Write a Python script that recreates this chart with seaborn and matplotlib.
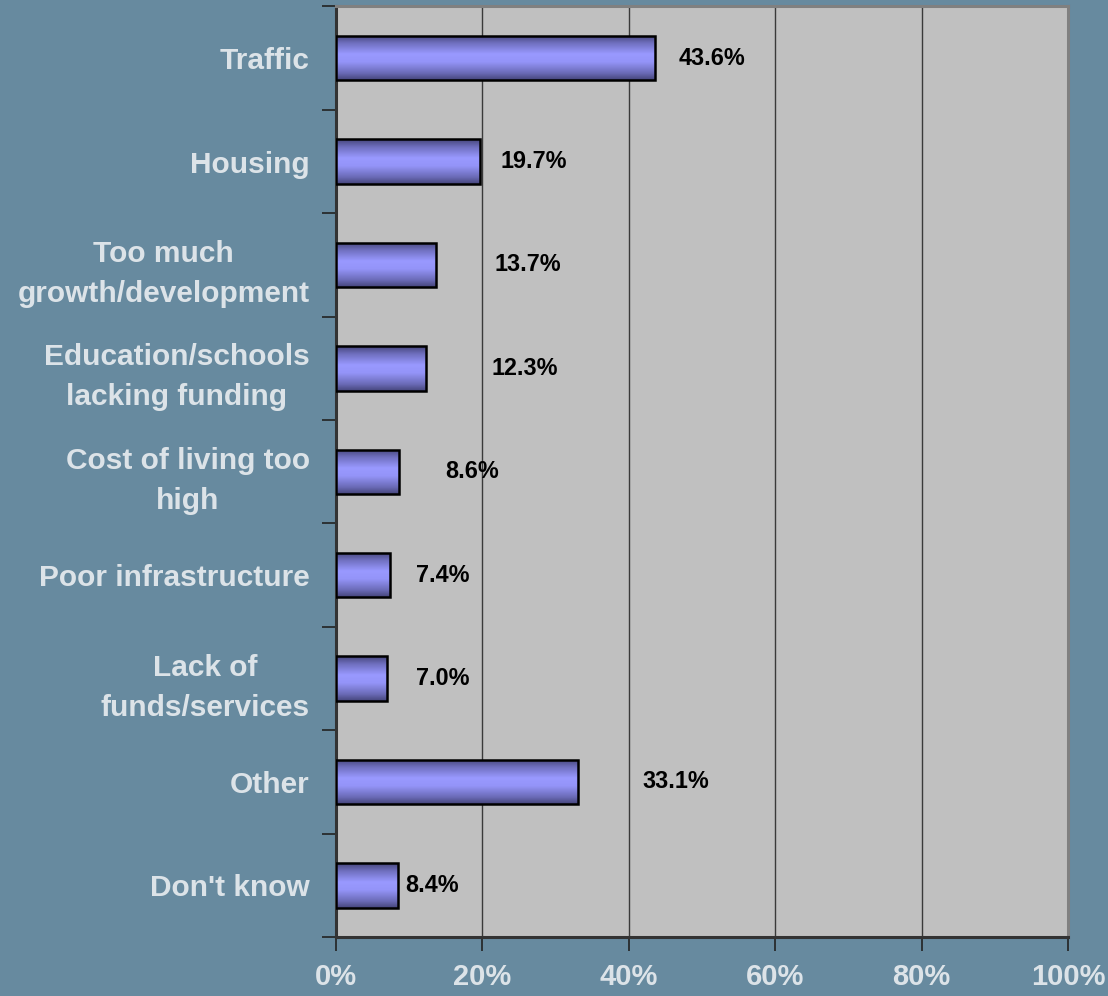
import numpy as np
import pandas as pd
import matplotlib
matplotlib.use("Agg")
import matplotlib.pyplot as plt
from matplotlib.colors import LinearSegmentedColormap
from matplotlib.ticker import FixedLocator, PercentFormatter
import seaborn as sns

# Survey results: most important issue facing the community
categories = [
    "Traffic",
    "Housing",
    "Too much\ngrowth/development",
    "Education/schools\nlacking funding",
    "Cost of living too\nhigh",
    "Poor infrastructure",
    "Lack of\nfunds/services",
    "Other",
    "Don't know",
]
shares = [43.6, 19.7, 13.7, 12.3, 8.6, 7.4, 7.0, 33.1, 8.4]
value_labels = ["43.6%", "19.7%", "13.7%", "12.3%", "8.6%", "7.4%", "7.0%", "33.1%", "8.4%"]
x_ticks = [0, 20, 40, 60, 80, 100]

# horizontal gap (pixels) between each bar end and its value label
label_gap_px = [23, 20, 58, 65, 46, 26, 29, 64, 8]

BG = "#678A9F"
PLOT_BG = "#C0C0C0"
LIGHT_TEXT = "#DCE3E8"

sns.set_theme(style="white")
plt.rcParams["font.family"] = ["Liberation Sans", "DejaVu Sans"]
plt.rcParams["font.weight"] = "bold"

df = pd.DataFrame({"issue": categories, "share": shares})

fig = plt.figure(figsize=(11.08, 9.96), dpi=100, facecolor=BG)
ax = fig.add_axes([0.3033, 0.0592, 0.6606, 0.9343])
ax.set_facecolor(PLOT_BG)

sns.barplot(data=df, x="share", y="issue", orient="h", width=0.43,
            color="#9999FF", edgecolor="black", linewidth=1.8, ax=ax, zorder=3)

n = len(categories)

# cylinder-style shading inside each bar
shade = LinearSegmentedColormap.from_list(
    "bar_shade",
    [(0.0, "#45457A"), (0.18, "#7070C0"), (0.42, "#9999FF"),
     (0.6, "#9494F8"), (0.85, "#6A6AB5"), (1.0, "#45457A")])
grad = np.linspace(0, 1, 256).reshape(-1, 1)
for patch in ax.patches:
    x0, y0 = patch.get_x(), patch.get_y()
    w, h = patch.get_width(), patch.get_height()
    im = ax.imshow(grad, cmap=shade, aspect="auto", origin="upper",
                   extent=(x0, x0 + w, y0 + h, y0), zorder=3.5,
                   interpolation="bilinear")
    im.set_clip_path(patch)
    patch.set_facecolor("none")
    patch.set_zorder(4)
ax.set_xlim(0, 100)
ax.set_ylim(n - 0.5, -0.5)

# value labels to the right of each bar
for i, (v, txt, gap) in enumerate(zip(shares, value_labels, label_gap_px)):
    ax.annotate(txt, xy=(v, i), xytext=(gap, 0), textcoords="offset pixels",
                ha="left", va="center", fontsize=16.8, fontweight="bold",
                color="black", zorder=6)

# vertical gridlines
ax.xaxis.set_major_locator(FixedLocator(x_ticks))
ax.xaxis.set_major_formatter(PercentFormatter(decimals=0))
ax.grid(axis="x", color="#3A3A3A", linewidth=1.0, zorder=1)
ax.grid(axis="y", visible=False)

ax.set_xlabel("")
ax.set_ylabel("")

# category separators on the value axis
ax.yaxis.set_minor_locator(FixedLocator(np.arange(-0.5, n, 1.0)))
ax.tick_params(axis="y", which="minor", direction="out", length=10, width=1.2,
               color="#222222", left=True)
ax.tick_params(axis="y", which="major", length=0, pad=19,
               labelsize=21.5, labelcolor=LIGHT_TEXT)
ax.tick_params(axis="x", which="major", direction="out", length=10, width=1.2,
               color="#222222", bottom=True, pad=9,
               labelsize=21, labelcolor=LIGHT_TEXT)
for lab in ax.get_yticklabels():
    lab.set_multialignment("center")
    lab.set_linespacing(1.55)
    lab.set_fontweight("bold")
for lab in ax.get_xticklabels():
    lab.set_fontweight("bold")

for side in ("top", "right"):
    ax.spines[side].set_visible(True)
    ax.spines[side].set_color("#808080")
    ax.spines[side].set_linewidth(2.2)
for side in ("left", "bottom"):
    ax.spines[side].set_visible(True)
    ax.spines[side].set_color("#333333")
    ax.spines[side].set_linewidth(2.2)

fig.savefig("out.png", dpi=100, facecolor=BG)
